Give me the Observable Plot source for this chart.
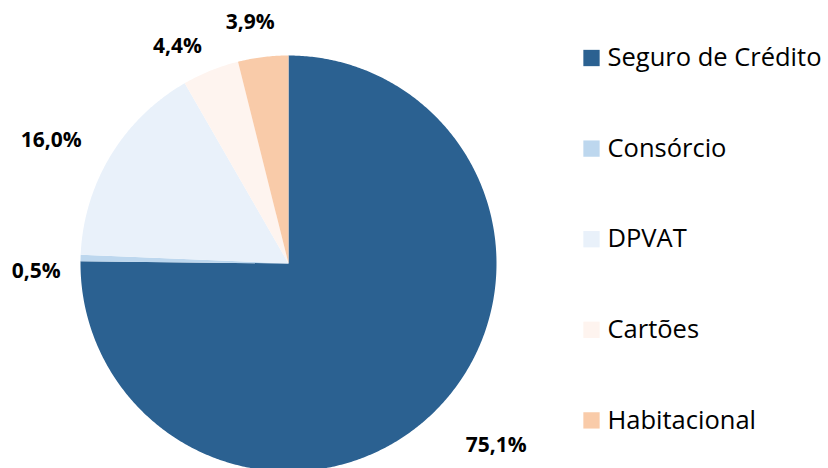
<!DOCTYPE html>
<html>
<head>
<meta charset="utf-8">
<script src="https://cdn.jsdelivr.net/npm/d3@7"></script>
<script src="https://cdn.jsdelivr.net/npm/@observablehq/plot@0.6"></script>
<style>
  html, body { margin: 0; padding: 0; background: #ffffff; }
  #chart svg { display: block; }
</style>
</head>
<body>
<div id="chart"></div>
<script>
// ---- Data ----
const categories = ["Seguro de Crédito", "Consórcio", "DPVAT", "Cartões", "Habitacional"];
const values = [75.1, 0.5, 16.0, 4.4, 3.9];
const valueLabels = ["75,1%", "0,5%", "16,0%", "4,4%", "3,9%"];
const colors = ["#2B6191", "#BDD7EE", "#E9F1FA", "#FEF4EF", "#F9CBA9"];

// ---- Layout ----
const W = 828, H = 468;
const cx = 288, cy = 263, R = 208;
// label placement: [radius factor, angle shift in degrees] relative to slice mid-angle
const labelLayout = [[1.328, -4.1], [1.214, -3.3], [1.284, -3.9], [1.172, -5.1], [1.173, -2.0]];
const legendX = 591, legendTop = 57.5, legendStep = 90.6;

const total = d3.sum(values);
const rad = (deg) => deg * Math.PI / 180;

// slice polygons (angles clockwise from 12 o'clock)
const slicePts = [];
const labelRows = [];
let start = 0;
values.forEach((v, i) => {
  const sweep = v / total * 360;
  const end = start + sweep;
  const n = Math.max(2, Math.ceil(sweep / 0.5));
  slicePts.push({name: categories[i], x: cx, y: cy});
  for (let k = 0; k <= n; k++) {
    const a = rad(start + sweep * k / n);
    slicePts.push({name: categories[i], x: cx + R * Math.sin(a), y: cy - R * Math.cos(a)});
  }
  const [f, shift] = labelLayout[i];
  const ma = rad(start + sweep / 2 + shift);
  labelRows.push({label: valueLabels[i], x: cx + f * R * Math.sin(ma), y: cy - f * R * Math.cos(ma)});
  start = end;
});

const legendRows = categories.map((c, i) => ({name: c, x: legendX, y: legendTop + i * legendStep}));

const chart = Plot.plot({
  width: W,
  height: H,
  margin: 0,
  x: {domain: [0, W], range: [0, W], axis: null},
  y: {domain: [0, H], range: [0, H], axis: null},
  color: {domain: categories, range: colors},
  style: {background: "#ffffff", overflow: "visible"},
  marks: [
    Plot.line(slicePts, {x: "x", y: "y", z: "name", fill: "name", stroke: "none", curve: "linear-closed"}),
    Plot.text(labelRows, {x: "x", y: "y", text: "label", fontSize: 21, fontWeight: "bold",
      fontFamily: "'Open Sans', sans-serif", fill: "#000000"}),
    Plot.dot(legendRows, {x: "x", y: "y", fill: "name", symbol: "square", r: 9.2, stroke: "none"}),
    Plot.text(legendRows, {x: d => d.x + 16, y: "y", text: "name", textAnchor: "start", fontSize: 25.5,
      fontFamily: "'Open Sans', sans-serif", fill: "#000000"})
  ]
});
document.getElementById("chart").appendChild(chart);
</script>
</body>
</html>
